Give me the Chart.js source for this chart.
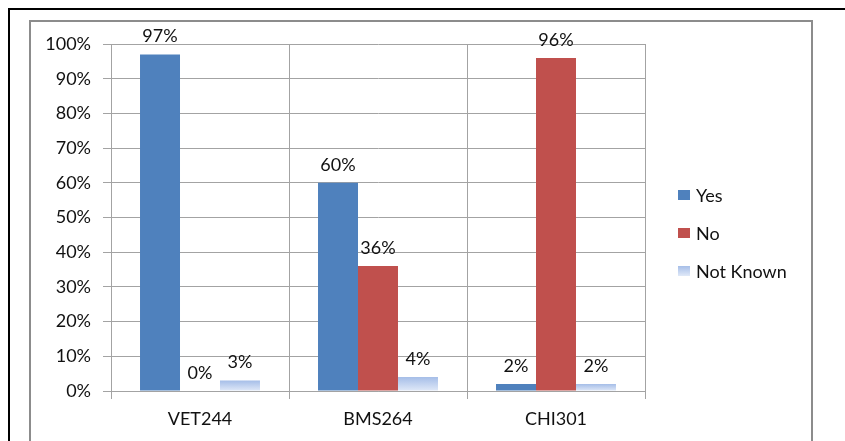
<!DOCTYPE html>
<html>
<head>
<meta charset="utf-8">
<script src="https://cdn.jsdelivr.net/npm/chart.js@4.4.1/dist/chart.umd.min.js"></script>
<style>
  html, body { margin: 0; padding: 0; background: #fff; }
  #wrap { position: relative; width: 845px; height: 441px; overflow: hidden; }
  #page { position: absolute; left: 8px; top: 8px; width: 845px; height: 441px;
          border-left: 2px solid #000; border-top: 2px solid #000; }
  #frame { position: absolute; left: 29px; top: 20px; width: 780px; height: 440px;
           border: 2px solid #8c8c8c; border-bottom: none; }
  canvas { position: absolute; left: 0; top: 0; }
</style>
</head>
<body>
<div id="wrap">
  <div id="page"></div>
  <div id="frame"></div>
  <canvas id="c" width="845" height="441"></canvas>
</div>
<script>
// Survey answers per course, in percent
const categories = ['VET244', 'BMS264', 'CHI301'];
const seriesNames = ['Yes', 'No', 'Not Known'];
const yesValues = [97, 60, 2];
const noValues = [0, 36, 96];
const notKnownValues = [3, 4, 2];

const FONT = { family: 'Lato, "Liberation Sans", sans-serif', size: 18 };
const TEXT = '#111111';
const GRID = '#a3a3a3';
const BLUE = '#4f81bd';
const RED = '#c0504d';
const PALE_TOP = '#a6bee8';
const PALE_BOTTOM = '#e0e9f8';

// Vertical fade for the "Not Known" bars, spanning each bar's own height
function paleFill(ctx) {
  const chart = ctx.chart;
  const area = chart.chartArea;
  if (!area || ctx.type !== 'data' || !chart.scales.y) return PALE_TOP;
  const v = ctx.parsed ? ctx.parsed.y : ctx.raw;
  const top = chart.scales.y.getPixelForValue(v);
  const base = chart.scales.y.getPixelForValue(0);
  if (!(base - top > 0.5)) return PALE_TOP;
  const g = chart.ctx.createLinearGradient(0, top, 0, base);
  g.addColorStop(0, PALE_TOP);
  g.addColorStop(1, PALE_BOTTOM);
  return g;
}

// Percent labels above every bar
const valueLabels = {
  id: 'valueLabels',
  afterDatasetsDraw(chart) {
    const c = chart.ctx;
    c.save();
    c.font = `${FONT.size}px ${FONT.family}`;
    c.fillStyle = TEXT;
    c.textAlign = 'center';
    c.textBaseline = 'bottom';
    chart.data.datasets.forEach((ds, i) => {
      chart.getDatasetMeta(i).data.forEach((bar, j) => {
        c.fillText(ds.data[j] + '%', bar.x, bar.y - 9);
      });
    });
    c.restore();
  }
};

// Legend drawn beside the plot
const sideLegend = {
  id: 'sideLegend',
  afterDraw(chart, args, opts) {
    const c = chart.ctx;
    c.save();
    c.font = `${FONT.size}px ${FONT.family}`;
    c.textBaseline = 'middle';
    c.textAlign = 'left';
    chart.data.datasets.forEach((ds, i) => {
      const cy = opts.y + i * opts.gap;
      const bx = opts.x, by = cy - opts.boxH / 2;
      if (ds.swatch) {
        const g = c.createLinearGradient(0, by, 0, by + opts.boxH);
        g.addColorStop(0, ds.swatch[0]);
        g.addColorStop(1, ds.swatch[1]);
        c.fillStyle = g;
      } else {
        c.fillStyle = ds.backgroundColor;
      }
      c.fillRect(bx, by, opts.boxW, opts.boxH);
      c.fillStyle = TEXT;
      c.fillText(ds.label, bx + opts.boxW + 6, cy + 1);
    });
    c.restore();
  }
};

new Chart(document.getElementById('c'), {
  type: 'bar',
  data: {
    labels: categories,
    datasets: [
      { label: seriesNames[0], data: yesValues, backgroundColor: BLUE },
      { label: seriesNames[1], data: noValues, backgroundColor: RED },
      { label: seriesNames[2], data: notKnownValues, backgroundColor: paleFill,
        swatch: [PALE_TOP, PALE_BOTTOM] }
    ]
  },
  options: {
    responsive: false,
    animation: false,
    categoryPercentage: 0.674,
    barPercentage: 1,
    layout: { padding: { left: 30, top: 44, right: 200, bottom: 0 } },
    plugins: {
      legend: { display: false },
      tooltip: { enabled: false },
      sideLegend: { x: 678, y: 195, gap: 38, boxW: 12, boxH: 10 }
    },
    scales: {
      x: {
        grid: { offset: true, color: GRID, tickLength: 8 },
        border: { color: GRID },
        ticks: { font: FONT, color: TEXT, padding: 9 },
        afterFit(s) { s.height = 50; }
      },
      y: {
        min: 0, max: 100,
        grid: { color: GRID, tickLength: 8 },
        border: { color: GRID },
        ticks: { stepSize: 10, font: FONT, color: TEXT, padding: 12,
                 callback: v => v + '%' },
        afterFit(s) { s.width = 81; }
      }
    }
  },
  plugins: [valueLabels, sideLegend]
});
</script>
</body>
</html>
